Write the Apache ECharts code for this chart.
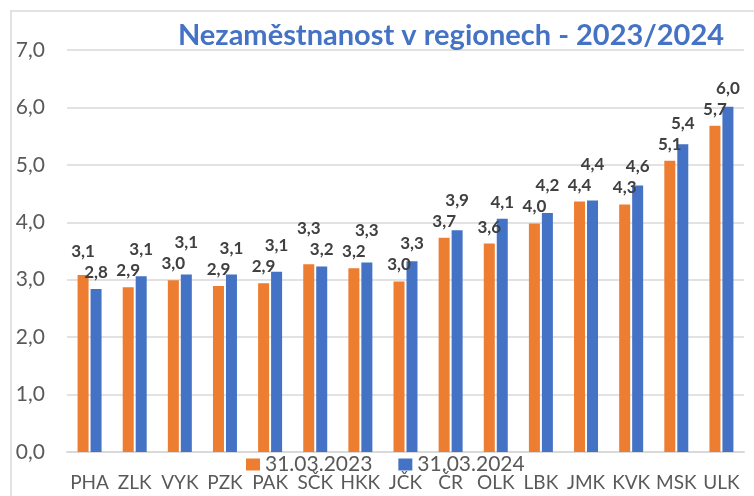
<!DOCTYPE html>
<html><head><meta charset="utf-8">
<script src="https://cdn.jsdelivr.net/npm/echarts@6/dist/echarts.min.js"></script>
<style>html,body{margin:0;padding:0;background:#fff}#c{width:754px;height:496px}</style>
</head><body><div id="c"></div>
<script>
const categories = ['PHA','ZLK','VYK','PZK','PAK','SČK','HKK','JČK','ČR','OLK','LBK','JMK','KVK','MSK','ULK'];
const values2023 = [3.08,2.87,2.99,2.89,2.94,3.27,3.20,2.97,3.73,3.63,3.98,4.36,4.31,5.07,5.68];
const values2024 = [2.84,3.06,3.09,3.09,3.14,3.23,3.30,3.32,3.86,4.06,4.16,4.38,4.64,5.36,6.01];
const seriesNames = ['31.03.2023','31.03.2024'];
const titleText = 'Nezaměstnanost v regionech - 2023/2024';

const FONT = 'Lato, "Noto Sans", sans-serif';
const fmt = v => v.toFixed(1).replace('.', ',');
const chart = echarts.init(document.getElementById('c'), null, {renderer:'canvas'});
const labelCfg = {show:true, position:'top', distance:8, color:'#404040', fontFamily:FONT, fontWeight:'bold', fontSize:17,
  formatter: p => fmt(p.value)};
const base = {
  animation:false,
  textStyle:{fontFamily:FONT},
  graphic:[{type:'rect', shape:{x:11,y:11,width:760,height:500}, style:{fill:'none', stroke:'#d9d9d9', lineWidth:1.5}, z:-1}],
  title:{text:titleText, left:446, textAlign:'center', top:16,
    textStyle:{color:'#4472C4', fontFamily:FONT, fontWeight:'bold', fontSize:29}},
  legend:{data:seriesNames, left:241, top:449, itemWidth:14, itemHeight:12, itemGap:26,
    icon:'rect', textStyle:{color:'#595959', fontFamily:FONT, fontSize:21}},
  grid:{left:67, right:10, top:50, bottom:44, containLabel:false},
  xAxis:{type:'category', data:categories,
    axisLine:{lineStyle:{color:'#d9d9d9', width:2}}, axisTick:{show:false},
    axisLabel:{interval:0, color:'#595959', fontFamily:FONT, fontSize:19, margin:21}},
  yAxis:{type:'value', min:0, max:7, interval:1,
    axisLine:{show:false}, axisTick:{show:false},
    splitLine:{lineStyle:{color:'#d9d9d9', width:1.5}},
    axisLabel:{color:'#595959', fontFamily:FONT, fontSize:21, margin:22, formatter: v => fmt(v)}},
  series:[
    {name:seriesNames[0], type:'bar', data:values2023, barWidth:11, barGap:'18%', itemStyle:{color:'#ED7D31'}, label:labelCfg},
    {name:seriesNames[1], type:'bar', data:values2024, barWidth:11, barGap:'18%', itemStyle:{color:'#4472C4'}, label:labelCfg}
  ]
};
chart.setOption(base);
// avoid overlap of the two labels in a category: lift the higher one
const minSep = 21;
const d23 = [], d24 = [];
values2023.forEach((v, i) => {
  const w = values2024[i];
  const yO = chart.convertToPixel({yAxisIndex:0}, v);
  const yB = chart.convertToPixel({yAxisIndex:0}, w);
  const diff = Math.abs(yO - yB);
  let oO = 0, oB = 0;
  if (diff < minSep) {
    if (v >= w) oO = -(minSep - diff); else oB = -(minSep - diff);
  }
  d23.push({value:v, label:{offset:[0, oO]}});
  d24.push({value:w, label:{offset:[0, oB]}});
});
chart.setOption({series:[{data:d23},{data:d24}]});
</script></body></html>
